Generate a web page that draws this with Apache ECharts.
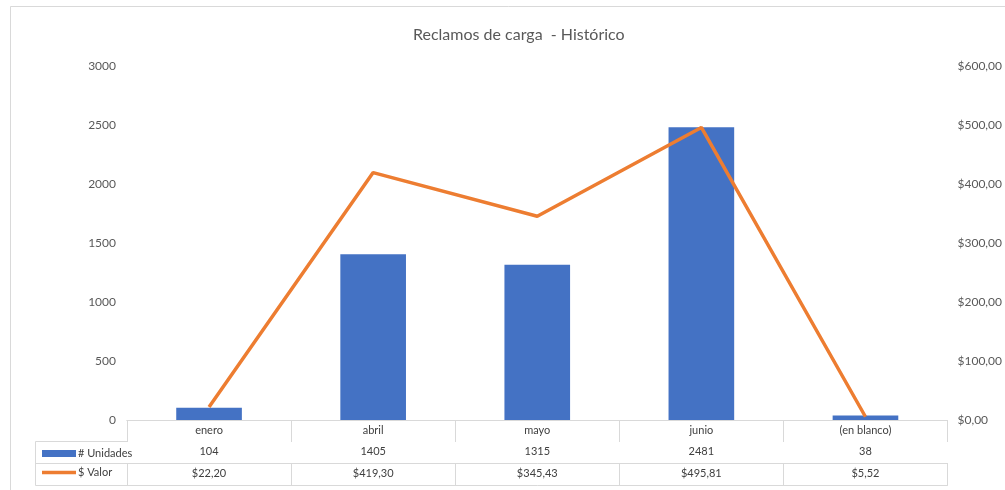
<!DOCTYPE html>
<html>
<head>
<meta charset="utf-8">
<script src="https://cdn.jsdelivr.net/npm/echarts@6/dist/echarts.min.js"></script>
<style>
  html, body { margin: 0; padding: 0; background: #fff; }
  #chart { width: 1005px; height: 490px; }
</style>
</head>
<body>
<div id="chart"></div>
<script>
// Monthly cargo claims: count of claims and claimed amount
const categories = ['enero', 'abril', 'mayo', 'junio', '(en blanco)'];
const unidades = [104, 1405, 1315, 2481, 38];
const valor = [22.20, 419.30, 345.43, 495.81, 5.52];
const leftTicks = { min: 0, max: 3000, interval: 500 };
const rightTicks = { min: 0, max: 600, interval: 100 };

const FONT = 'Lato, "Noto Sans", sans-serif';
const BLUE = '#4472C4';
const ORANGE = '#ED7D31';
const BORDER = '#D9D9D9';
const TXT = '#404040';

const money = v => '$' + Number(v).toFixed(2).replace('.', ',');

// plot area edges
const G = { left: 127, right: 53, top: 66, bottom: 70 };
const rowY = [420, 441, 463, 485];

function tableAxis(data, offset, tickLen, showLabel) {
  return {
    type: 'category',
    data: data,
    position: 'bottom',
    offset: offset,
    boundaryGap: true,
    axisLine: { show: true, lineStyle: { color: BORDER, width: 1 } },
    axisTick: { show: tickLen > 0, length: tickLen, interval: 0, lineStyle: { color: BORDER } },
    axisLabel: { show: showLabel, interval: 0, margin: 5, fontSize: 11, color: TXT, fontFamily: FONT },
    splitLine: { show: false }
  };
}

const chart = echarts.init(document.getElementById('chart'));
chart.setOption({
  backgroundColor: '#fff',
  animation: false,
  title: {
    text: 'Reclamos de carga  - Histórico',
    left: 408,
    top: 22,
    textStyle: { fontFamily: FONT, fontSize: 16, fontWeight: 'normal', color: '#595959' }
  },
  legend: {
    orient: 'vertical',
    left: 37,
    top: 443,
    itemGap: 8,
    itemWidth: 34,
    itemHeight: 7,
    textStyle: { fontFamily: FONT, fontSize: 11, color: TXT, padding: [0, 0, 0, -3] },
    data: [
      { name: '# Unidades', icon: 'rect' },
      { name: '$ Valor', icon: 'path://M0,0H34V3.5H0Z', itemStyle: { color: ORANGE } }
    ]
  },
  grid: { left: G.left, right: G.right, top: G.top, bottom: G.bottom, containLabel: false },
  xAxis: [
    tableAxis(categories, 0, rowY[1] - rowY[0], true),
    tableAxis(unidades.map(String), rowY[1] - rowY[0], rowY[2] - rowY[1], true),
    tableAxis(valor.map(money), rowY[2] - rowY[0], rowY[3] - rowY[2], true),
    tableAxis(categories, rowY[3] - rowY[0], 0, false)
  ],
  yAxis: [
    {
      type: 'value',
      min: leftTicks.min, max: leftTicks.max, interval: leftTicks.interval,
      axisLine: { show: false }, axisTick: { show: false }, splitLine: { show: false },
      axisLabel: { margin: 11, fontSize: 12, color: '#595959', fontFamily: FONT, formatter: v => String(v) }
    },
    {
      type: 'value',
      position: 'right',
      min: rightTicks.min, max: rightTicks.max, interval: rightTicks.interval,
      axisLine: { show: false }, axisTick: { show: false }, splitLine: { show: false },
      axisLabel: { margin: 10, fontSize: 12, color: '#595959', fontFamily: FONT, formatter: money }
    }
  ],
  series: [
    {
      name: '# Unidades',
      type: 'bar',
      xAxisIndex: 0,
      yAxisIndex: 0,
      data: unidades,
      barWidth: '40%',
      itemStyle: { color: BLUE }
    },
    {
      name: '$ Valor',
      type: 'line',
      xAxisIndex: 0,
      yAxisIndex: 1,
      data: valor,
      symbol: 'none',
      lineStyle: { color: ORANGE, width: 3.5 },
      itemStyle: { color: ORANGE },
      z: 3
    }
  ],
  graphic: [
    // outer chart frame
    { type: 'rect', shape: { x: 10.5, y: 6.5, width: 1100, height: 600 },
      style: { fill: 'none', stroke: BORDER, lineWidth: 1 }, silent: true },
    // legend cells on the left of the data table
    { type: 'polyline', shape: { points: [[G.left, rowY[1] + 0.5], [35.5, rowY[1] + 0.5], [35.5, rowY[3] + 0.5], [G.left, rowY[3] + 0.5]] },
      style: { fill: 'none', stroke: BORDER, lineWidth: 1 }, silent: true },
    { type: 'line', shape: { x1: 35.5, y1: rowY[2] + 0.5, x2: G.left, y2: rowY[2] + 0.5 },
      style: { stroke: BORDER, lineWidth: 1 }, silent: true }
  ]
});
</script>
</body>
</html>
